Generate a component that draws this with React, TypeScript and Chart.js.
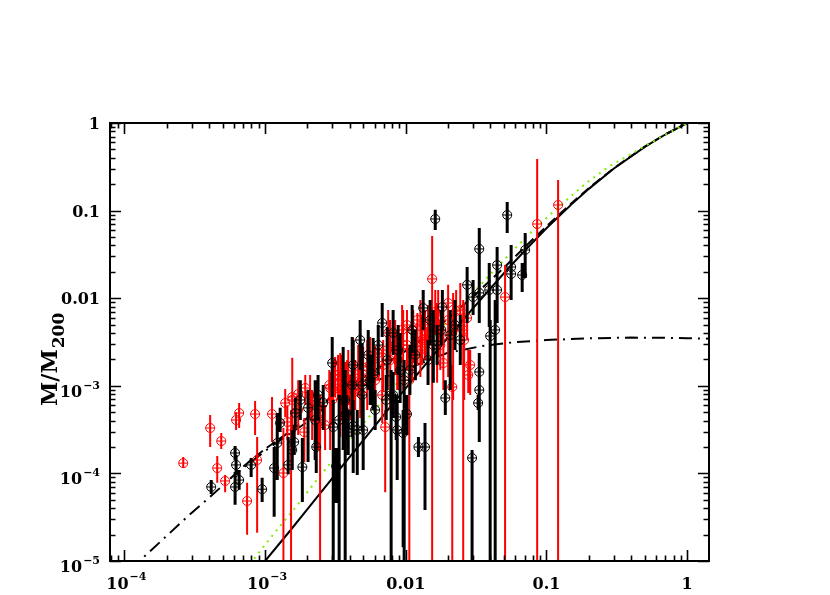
import React, { useEffect, useRef } from "react";
import { Chart, registerables } from "chart.js";

Chart.register(...registerables);

// ---------- axes ----------
const xRange = [7.9e-5, 1.43];
const yRange = [1e-5, 1];
const xTickValues = [1e-4, 1e-3, 0.01, 0.1, 1];
const xTickLabels = ["10^-4", "10^-3", "0.01", "0.1", "1"];
const yTickValues = [1e-5, 1e-4, 1e-3, 0.01, 0.1, 1];
const yTickLabels = ["10^-5", "10^-4", "10^-3", "0.01", "0.1", "1"];
const yTitleMain = "M/M";
const yTitleSub = "200";

// ---------- black sample (r/r200, M/M200, upper, lower; 0 = bar reaches below axis) ----------
const blackR = [4.14e-4, 6.12e-4, 6.22e-4, 6.12e-4, 6.54e-4, 7.96e-4, 9.53e-4, 1.16e-3, 1.22e-3, 1.28e-3,
  1.46e-3, 1.56e-3, 1.61e-3, 1.64e-3, 1.84e-3, 2.02e-3, 2.31e-3, 2.59e-3, 3.05e-3, 3.2e-3,
  3.36e-3, 3.71e-3, 3.77e-3, 3.9e-3, 4.23e-3, 4.23e-3, 3.0e-3, 4.52e-3, 4.9e-3, 5.58e-3,
  6.06e-3, 6.8e-3, 7.26e-3, 7.87e-3, 8.13e-3, 8.13e-3, 8.55e-3, 9.58e-3, 9.74e-3, 0.0102,
  0.0107, 0.0117, 0.0123, 0.0133, 0.0137, 0.0144, 0.0162, 0.0167, 0.0182, 0.0191,
  0.0207, 0.0224, 0.0244, 0.0273, 0.0296, 0.0301, 0.0333, 0.0333, 0.0333, 0.0333,
  0.0327, 0.0392, 0.0398, 0.0432, 0.0446, 0.0446, 0.0526, 0.0561, 0.0561, 0.0672,
  0.0706, 0.0179, 0.0149, 1.78e-3, 2.38e-3, 4.74e-3, 5.41e-3, 6.37e-3, 8.83e-3, 0.0111,
  3.59e-3, 4.16e-3, 4.9e-3, 5.86e-3, 7.38e-3, 9.12e-3, 0.0157, 2.27e-3, 4.98e-3, 8.69e-3];
const blackM = [7.0e-5, 1.71e-4, 1.25e-4, 7.0e-5, 8.4e-5, 1.25e-4, 6.6e-5, 1.15e-4, 2.22e-4, 3.76e-4,
  1.25e-4, 1.85e-4, 2.28e-4, 4.9e-4, 1.18e-4, 5.6e-4, 2.0e-4, 6.4e-4, 3.38e-4, 1.21e-4,
  4.07e-4, 6.9e-4, 4.9e-4, 2.96e-4, 3.47e-4, 1.73e-3, 1.82e-3, 3.13e-4, 7.85e-4, 1.16e-3,
  5.3e-4, 5.21e-3, 6.9e-4, 7.85e-4, 4.01e-3, 7.85e-4, 4.41e-4, 2.89e-4, 1.16e-3, 4.76e-4,
  1.51e-3, 2.25e-3, 2.0e-4, 7.73e-3, 2.0e-4, 1.97e-3, 0.0802, 2.92e-3, 7.93e-3, 7.26e-4,
  3.8e-3, 4.94e-3, 3.33e-3, 0.0142, 1.5e-4, 0.0103, 0.0365, 0.0115, 1.44e-3, 8.95e-4,
  6.36e-4, 0.0124, 3.7e-3, 4.34e-3, 0.0239, 0.0124, 0.0891, 0.0227, 0.0189, 0.0184,
  0.0355, 4.34e-3, 5.64e-3, 6.89e-4, 7.85e-4, 3.33e-3, 2.25e-3, 2.92e-3, 2.56e-3, 4.34e-3,
  6.89e-4, 1.02e-3, 1.02e-3, 1.33e-3, 1.97e-3, 1.51e-3, 2.92e-3, 4.07e-4, 3.13e-4, 3.13e-4];
const blackHi = [8.4e-5, 2.06e-4, 1.62e-4, 1.04e-4, 1.09e-4, 1.5e-4, 8.9e-5, 2.0e-4, 4.9e-4, 5.6e-4,
  2.6e-4, 3.1e-4, 3.6e-4, 7.3e-4, 2.53e-4, 9.0e-4, 3.76e-4, 1.02e-3, 6.9e-4, 1.95e-4,
  7.85e-4, 1.51e-3, 7.85e-4, 5.3e-4, 6.9e-4, 3.33e-3, 3.61e-3, 5.3e-4, 1.44e-3, 2.25e-3,
  8.95e-4, 8.81e-3, 1.33e-3, 1.51e-3, 7.33e-3, 1.44e-3, 7.85e-4, 5.3e-4, 1.97e-3, 7.85e-4,
  2.92e-3, 4.34e-3, 2.6e-4, 0.0124, 3.76e-4, 3.33e-3, 0.102, 4.94e-3, 0.0124, 1.16e-3,
  7.33e-3, 9.53e-3, 6.43e-3, 0.0227, 1.85e-4, 0.0161, 0.0632, 0.0184, 2.37e-3, 1.16e-3,
  7.85e-4, 0.0252, 5.64e-3, 9.53e-3, 0.0384, 0.021, 0.125, 0.0405, 0.0288, 0.0252,
  0.0555, 7.33e-3, 9.53e-3, 1.16e-3, 1.33e-3, 5.64e-3, 4.34e-3, 4.94e-3, 4.94e-3, 8.36e-3,
  2.77e-3, 3.61e-3, 3.08e-3, 3.51e-3, 4.69e-3, 4.01e-3, 7.33e-3, 1.16e-3, 7.85e-4, 6.89e-4];
const blackLo = [5.8e-5, 1.42e-4, 9.6e-5, 4.4e-5, 6.5e-5, 9.1e-5, 4.7e-5, 3.2e-5, 8.4e-5, 2.96e-4,
  9.8e-5, 1.09e-4, 1.62e-4, 3.4e-4, 4.7e-5, 1.35e-4, 1.01e-4, 3.13e-4, 0, 4.6e-5,
  0, 0, 2.4e-4, 1.62e-4, 1.01e-4, 8.95e-4, 7.45e-4, 9.6e-5, 4.07e-4, 6.04e-4,
  3.13e-4, 3.61e-3, 4.07e-4, 0, 2.25e-3, 4.29e-4, 2.4e-4, 1.44e-5, 0, 2.74e-4,
  7.85e-4, 1.16e-3, 1.54e-4, 4.34e-3, 3.82e-5, 1.02e-3, 0.06, 1.73e-3, 4.34e-3, 4.65e-4,
  8.95e-4, 2.56e-3, 1.73e-3, 5.21e-3, 0, 6.43e-3, 5.21e-3, 7.33e-3, 2.28e-4, 6.89e-4,
  5.3e-4, 4.69e-3, 0, 0, 5.21e-3, 7.33e-3, 0.0555, 9.53e-3, 0.0109, 0.0118,
  0.017, 2.92e-3, 2.92e-3, 4.07e-4, 4.07e-4, 1.51e-3, 8.95e-4, 1.33e-3, 1.33e-3, 2.37e-3,
  1.85e-4, 2.6e-4, 3.13e-4, 5.3e-4, 8.95e-4, 6.36e-4, 1.08e-3, 1.42e-4, 1.09e-4, 8.4e-5];

// ---------- red sample ----------
const redR = [2.62e-4, 4.07e-4, 4.88e-4, 4.57e-4, 5.2e-4, 6.22e-4, 6.54e-4, 8.49e-4, 7.45e-4, 8.78e-4,
  1.12e-3, 1.35e-3, 1.39e-3, 1.44e-3, 1.56e-3, 1.72e-3, 1.93e-3, 1.9e-3, 1.53e-3, 2.27e-3,
  2.34e-3, 2.46e-3, 2.67e-3, 2.9e-3, 3.05e-3, 3.0e-3, 3.3e-3, 3.9e-3, 4.03e-3, 4.59e-3,
  4.74e-3, 5.32e-3, 6.37e-3, 7.14e-3, 7.5e-3, 9.42e-3, 0.0102, 0.0106, 0.0121, 0.0127,
  0.0137, 0.0144, 0.0154, 0.0162, 0.0185, 0.02, 0.0214, 0.0228, 0.0256, 0.0273,
  0.0287, 0.0508, 0.0859, 0.121, 0.0176, 4.37e-3, 3.53e-3, 2.09e-3, 8.41e-3, 8.83e-3,
  0.0111, 0.0131, 6.06e-3, 6.91e-3, 4.9e-3, 3.71e-3,
  1.56e-3, 1.72e-3, 2.16e-3, 2.38e-3, 3.42e-3, 3.83e-3, 4.23e-3, 5.32e-3, 6.06e-3, 6.8e-3,
  7.75e-3, 8.69e-3, 9.58e-3, 0.0113, 0.0127, 0.0142, 0.0167, 0.02, 0.0244, 0.0278,
  2.86e-3, 3.15e-3, 3.48e-3, 4.98e-3, 5.58e-3, 5.86e-3, 6.37e-3, 7.38e-3, 0.0102, 0.0121,
  0.017, 0.0185, 0.0217, 0.026];
const redM = [1.31e-4, 3.3e-4, 2.34e-4, 1.15e-4, 8.2e-5, 4.07e-4, 4.89e-4, 4.76e-4, 4.84e-5, 1.42e-4,
  4.76e-4, 1.01e-4, 6.36e-4, 3.86e-4, 7.45e-4, 8.05e-4, 9.44e-4, 2.96e-4, 3.13e-4, 6.53e-4,
  5.73e-4, 4.07e-4, 3.56e-4, 9.44e-4, 9.68e-4, 6.89e-4, 1.33e-3, 1.33e-3, 7.45e-4, 1.51e-3,
  8.28e-4, 1.64e-3, 2.37e-3, 3.38e-4, 4.01e-3, 4.34e-3, 2.92e-3, 1.16e-3, 3.16e-3, 4.82e-3,
  3.8e-3, 4.45e-3, 0.0166, 6.95e-3, 1.82e-3, 8.81e-3, 9.68e-4, 7.14e-3, 4.34e-3, 5.94e-3,
  1.73e-3, 0.0103, 0.0703, 0.116, 2.92e-3, 1.02e-3, 7.85e-4, 7.85e-4, 2.92e-3, 1.97e-3,
  2.25e-3, 3.33e-3, 1.33e-3, 1.73e-3, 1.16e-3, 1.02e-3,
  6.89e-4, 5.3e-4, 6.04e-4, 4.07e-4, 8.95e-4, 7.85e-4, 1.16e-3, 1.16e-3, 1.16e-3, 7.85e-4,
  1.97e-3, 1.97e-3, 2.92e-3, 4.34e-3, 2.56e-3, 3.33e-3, 4.34e-3, 5.64e-3, 7.33e-3, 1.33e-3,
  1.02e-3, 1.33e-3, 1.16e-3, 1.51e-3, 1.73e-3, 1.97e-3, 2.56e-3, 2.56e-3, 4.94e-3, 5.64e-3,
  5.64e-3, 3.8e-3, 4.34e-3, 3.33e-3];
const redHi = [1.54e-4, 4.65e-4, 2.89e-4, 1.58e-4, 9.6e-5, 5.0e-4, 6.36e-4, 6.7e-4, 7.8e-5, 2.6e-4,
  7.45e-4, 3.3e-4, 9.2e-4, 6.0e-4, 1.02e-3, 1.16e-3, 1.33e-3, 4.29e-4, 5.3e-4, 1.02e-3,
  8.95e-4, 7.85e-4, 6.04e-4, 1.44e-3, 1.97e-3, 1.16e-3, 2.25e-3, 2.56e-3, 1.33e-3, 2.92e-3,
  1.51e-3, 3.33e-3, 4.34e-3, 5.3e-4, 7.33e-3, 8.36e-3, 5.64e-3, 2.56e-3, 6.43e-3, 9.53e-3,
  7.33e-3, 8.36e-3, 0.0513, 0.0124, 3.33e-3, 0.0142, 1.73e-3, 0.0124, 9.53e-3, 9.53e-3,
  2.56e-3, 0.0239, 0.388, 0.223, 5.64e-3, 1.97e-3, 1.51e-3, 1.33e-3, 5.64e-3, 3.8e-3,
  4.34e-3, 6.43e-3, 2.56e-3, 3.33e-3, 2.25e-3, 1.87e-3,
  2.09e-3, 1.02e-3, 8.95e-4, 7.26e-4, 2.37e-3, 1.97e-3, 3.51e-3, 2.56e-3, 2.77e-3, 2.56e-3,
  5.64e-3, 4.34e-3, 7.33e-3, 7.33e-3, 6.1e-3, 4.69e-3, 8.81e-3, 0.0124, 0.0149, 2.56e-3,
  1.51e-3, 2.13e-3, 2.25e-3, 2.77e-3, 3.61e-3, 3.33e-3, 4.69e-3, 4.01e-3, 7.33e-3, 6.78e-3,
  0.0124, 7.93e-3, 0.0115, 8.81e-3];
const redLo = [1.15e-4, 2.0e-4, 1.9e-4, 7.8e-5, 6.1e-5, 3.13e-4, 3.3e-4, 2.74e-4, 2.0e-5, 2.1e-5,
  2.28e-4, 0, 4.41e-4, 2.4e-4, 5.0e-4, 5.3e-4, 6.04e-4, 1.35e-4, 0, 4.07e-4,
  3.13e-4, 0, 1.85e-4, 1.85e-4, 4.65e-4, 3.56e-4, 6.89e-4, 6.04e-4, 4.07e-4, 7.85e-4,
  4.29e-4, 8.95e-4, 1.16e-3, 6.1e-5, 1.97e-3, 2.25e-3, 1.51e-3, 0, 1.73e-3, 2.56e-3,
  1.97e-3, 2.25e-3, 0, 3.8e-3, 8.95e-4, 4.94e-3, 0, 3.8e-3, 0, 3.33e-3,
  7.85e-4, 0, 0, 0, 1.51e-3, 5.3e-4, 4.07e-4, 4.07e-4, 1.33e-3, 8.95e-4,
  1.16e-3, 1.73e-3, 6.89e-4, 8.49e-4, 6.04e-4, 5.3e-4,
  1.85e-4, 2.74e-4, 2.4e-4, 1.85e-4, 2.6e-4, 2.6e-4, 2.96e-4, 5.3e-4, 5.3e-4, 3.76e-4,
  5.3e-4, 8.95e-4, 8.95e-4, 1.82e-3, 1.26e-3, 1.97e-3, 1.08e-3, 1.26e-3, 1.97e-3, 8.28e-4,
  6.89e-4, 7.45e-4, 6.89e-4, 8.28e-4, 7.45e-4, 9.68e-4, 1.26e-3, 1.4e-3, 2.77e-3, 2.77e-3,
  2.13e-3, 1.4e-3, 6.89e-4, 6.89e-4];

// ---------- model curves ----------
const darkR = [1e-3, 1.5e-3, 2e-3, 3e-3, 5e-3, 7e-3, 0.01, 0.015, 0.02, 0.03, 0.05, 0.07, 0.1, 0.15, 0.2, 0.3, 0.5, 0.7, 1];
const darkM = [1.0e-5, 2.2e-5, 3.9e-5, 8.8e-5, 2.4e-4, 4.7e-4, 9.4e-4, 2.06e-3, 3.57e-3, 7.65e-3, 0.0194, 0.0348, 0.0628, 0.117, 0.177, 0.300, 0.534, 0.739, 1.0];

const totalR = [7e-4, 1e-3, 1.5e-3, 2e-3, 3e-3, 5e-3, 7e-3, 0.01, 0.015, 0.02, 0.03, 0.05, 0.07, 0.1, 0.15, 0.2, 0.3, 0.5, 0.7, 1];
const totalM = [1.2e-4, 1.9e-4, 3.0e-4, 4.3e-4, 7.7e-4, 1.25e-3, 1.75e-3, 2.5e-3, 4.0e-3, 5.9e-3, 0.0104, 0.0224, 0.0383, 0.0661, 0.1205, 0.1805, 0.3035, 0.5376, 0.7425, 1.0035];

const galaxyR = [1.1e-4, 1.86e-4, 2.8e-4, 4.07e-4, 6e-4, 1.09e-3, 2.09e-3, 3.05e-3, 5e-3, 0.01, 0.0197, 0.035, 0.06, 0.1, 0.2, 0.4, 0.7, 1.0, 1.43];
const galaxyM = [8.0e-6, 1.74e-5, 3.2e-5, 5.4e-5, 9.5e-5, 2.0e-4, 4.07e-4, 6.9e-4, 1.0e-3, 1.55e-3, 2.37e-3, 2.85e-3, 3.15e-3, 3.33e-3, 3.48e-3, 3.55e-3, 3.53e-3, 3.5e-3, 3.45e-3];

const steepR = [7.8e-4, 8.23e-4, 1.09e-3, 1.61e-3, 2.55e-3, 4.16e-3, 7.38e-3, 0.0119, 0.019, 0.0277, 0.0446, 0.0729, 0.117, 0.188, 0.275, 0.546, 1.0];
const steepM = [9.2e-6, 1.03e-5, 1.83e-5, 3.92e-5, 1.01e-4, 2.6e-4, 7.85e-4, 2.02e-3, 5.07e-3, 0.01, 0.0227, 0.0513, 0.104, 0.201, 0.315, 0.59, 1.0];

const BLACK = "#000000";
const RED = "#ff0000";
const GREEN = "#7cf000";
const FONT_FAMILY = "'DejaVu Serif', serif";

function pairs(r: number[], m: number[]) {
  return r.map((v, i) => ({ x: v, y: m[i] }));
}

function barSegments(r: number[], lo: number[], hi: number[]) {
  const out: { x: number; y: number | null }[] = [];
  for (let i = 0; i < r.length; i++) {
    out.push({ x: r[i], y: hi[i] });
    out.push({ x: r[i], y: lo[i] > 0 ? lo[i] : yRange[0] / 100 });
    out.push({ x: r[i], y: null });
  }
  return out;
}

function minorValues(min: number, max: number) {
  const vals: number[] = [];
  for (let e = Math.floor(Math.log10(min)); e <= Math.ceil(Math.log10(max)); e++) {
    for (let k = 2; k <= 9; k++) {
      const v = k * Math.pow(10, e);
      if (v > min && v < max) vals.push(v);
    }
  }
  return vals;
}

function splitLabel(lab: string) {
  if (lab.includes("^")) {
    const [b, e] = lab.split("^");
    return { base: b, exp: e.replace("-", "\u2212") };
  }
  return { base: lab, exp: "" };
}

const axesPlugin = {
  id: "smAxes",
  afterDraw(chart: any) {
    const { ctx, chartArea } = chart;
    const xs = chart.scales.x;
    const ys = chart.scales.y;
    const { left, right, top, bottom } = chartArea;
    ctx.save();
    ctx.strokeStyle = BLACK;
    ctx.fillStyle = BLACK;
    ctx.lineWidth = 2;
    ctx.strokeRect(left, top, right - left, bottom - top);

    const MAJ = 11;
    const MIN = 5.5;
    ctx.lineWidth = 1.6;
    ctx.beginPath();
    const xTick = (v: number, len: number) => {
      const p = Math.round(xs.getPixelForValue(v)) + 0.5;
      ctx.moveTo(p, bottom);
      ctx.lineTo(p, bottom - len);
      ctx.moveTo(p, top);
      ctx.lineTo(p, top + len);
    };
    const yTick = (v: number, len: number) => {
      const p = Math.round(ys.getPixelForValue(v)) + 0.5;
      ctx.moveTo(left, p);
      ctx.lineTo(left + len, p);
      ctx.moveTo(right, p);
      ctx.lineTo(right - len, p);
    };
    xTickValues.forEach((v) => xTick(v, MAJ));
    minorValues(xRange[0], xRange[1]).forEach((v) => xTick(v, MIN));
    yTickValues.forEach((v) => yTick(v, MAJ));
    minorValues(yRange[0], yRange[1]).forEach((v) => yTick(v, MIN));
    ctx.stroke();

    const FONT = `bold 16px ${FONT_FAMILY}`;
    const SUP = `bold 11px ${FONT_FAMILY}`;
    ctx.textBaseline = "alphabetic";

    // x labels
    xTickValues.forEach((v, i) => {
      const px = xs.getPixelForValue(v);
      const { base, exp } = splitLabel(xTickLabels[i]);
      ctx.font = FONT;
      const wb = ctx.measureText(base).width;
      ctx.font = SUP;
      const we = exp ? ctx.measureText(exp).width + 1 : 0;
      const start = px - (wb + we) / 2 + (exp ? 2 : 0);
      ctx.textAlign = "left";
      ctx.font = FONT;
      ctx.fillText(base, start, bottom + 28);
      if (exp) {
        ctx.font = SUP;
        ctx.fillText(exp, start + wb + 1, bottom + 19);
      }
    });

    // y labels
    const yRight = left - 10;
    yTickValues.forEach((v, i) => {
      const py = ys.getPixelForValue(v);
      const { base, exp } = splitLabel(yTickLabels[i]);
      ctx.textAlign = "right";
      if (exp) {
        ctx.font = SUP;
        const we = ctx.measureText(exp).width;
        ctx.textAlign = "left";
        ctx.fillText(exp, yRight - we, py + 3);
        ctx.font = FONT;
        ctx.textAlign = "right";
        ctx.fillText(base, yRight - we - 1, py + 11);
      } else {
        ctx.font = FONT;
        ctx.fillText(base, yRight, py + 6);
      }
    });

    // y title with subscript
    ctx.translate(57, 406);
    ctx.rotate(-Math.PI / 2);
    ctx.textAlign = "left";
    ctx.font = `bold 22px ${FONT_FAMILY}`;
    ctx.fillText(yTitleMain, 0, 0);
    const wm = ctx.measureText(yTitleMain).width;
    ctx.font = `bold 17px ${FONT_FAMILY}`;
    ctx.fillText(yTitleSub, wm + 1, 7);
    ctx.restore();
  },
};

export default function App() {
  const ref = useRef<HTMLCanvasElement | null>(null);
  useEffect(() => {
    if (!ref.current) return;
    const markerSet = (r: number[], m: number[], color: string) => [
      {
        type: "scatter",
        data: pairs(r, m),
        pointStyle: "circle",
        pointRadius: 4.5,
        pointBorderWidth: 1,
        pointBorderColor: color,
        pointBackgroundColor: "rgba(0,0,0,0)",
        showLine: false,
      },
      {
        type: "scatter",
        data: pairs(r, m),
        pointStyle: "cross",
        pointRadius: 4.5,
        pointBorderWidth: 1,
        pointBorderColor: color,
        showLine: false,
      },
    ];
    const curve = (r: number[], m: number[], dash: number[], color: string, w: number) => ({
      type: "scatter",
      data: pairs(r, m),
      showLine: true,
      borderColor: color,
      borderWidth: w,
      borderDash: dash,
      pointRadius: 0,
      tension: 0,
      fill: false,
    });
    const chart = new Chart(ref.current, {
      type: "scatter",
      data: {
        datasets: [
          {
            type: "scatter",
            data: barSegments(blackR, blackLo, blackHi),
            showLine: true,
            spanGaps: false,
            borderColor: BLACK,
            borderWidth: 3,
            pointRadius: 0,
          },
          ...markerSet(blackR, blackM, BLACK),
          {
            type: "scatter",
            data: barSegments(redR, redLo, redHi),
            showLine: true,
            spanGaps: false,
            borderColor: RED,
            borderWidth: 2,
            pointRadius: 0,
          },
          ...markerSet(redR, redM, RED),
          curve(steepR, steepM, [2, 5], GREEN, 2),
          curve(galaxyR, galaxyM, [13, 6, 2, 6], BLACK, 2),
          curve(totalR, totalM, [10, 5], BLACK, 2),
          curve(darkR, darkM, [], BLACK, 2),
        ] as any,
      },
      options: {
        animation: false,
        responsive: false,
        devicePixelRatio: 1,
        events: [],
        layout: { padding: { left: 110, right: 121, top: 123, bottom: 34 } },
        plugins: { legend: { display: false }, tooltip: { enabled: false } },
        scales: {
          x: {
            type: "logarithmic",
            min: xRange[0],
            max: xRange[1],
            display: false,
          },
          y: {
            type: "logarithmic",
            min: yRange[0],
            max: yRange[1],
            display: false,
          },
        },
      } as any,
      plugins: [axesPlugin],
    });
    return () => chart.destroy();
  }, []);
  return (
    <div style={{ position: "absolute", left: 0, top: 0, width: 830, height: 595, background: "#fff" }}>
      <canvas ref={ref} width={830} height={595} style={{ display: "block" }} />
    </div>
  );
}
